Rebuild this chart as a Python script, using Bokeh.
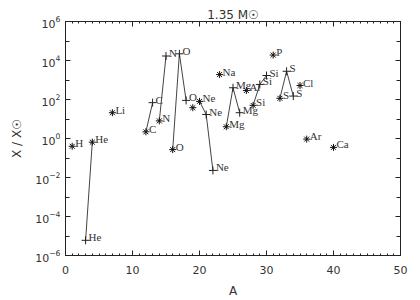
from bokeh.plotting import figure
from bokeh.models import (ColumnDataSource, FixedTicker, SingleIntervalTicker,
                          LinearAxis, LogAxis, Range1d, LabelSet, LogTickFormatter)
from bokeh.embed import file_html
from bokeh.resources import INLINE

# ---- data ----
element = ["H", "He", "He", "Li", "C", "C", "N", "N", "O", "O", "O", "F",
           "Ne", "Ne", "Ne", "Na", "Mg", "Mg", "Mg", "Al", "Si", "Si", "Si",
           "P", "S", "S", "S", "Cl", "Ar", "Ca"]
mass = [1, 3, 4, 7, 12, 13, 14, 15, 16, 17, 18, 19, 20, 21, 22, 23, 24, 25, 26,
        27, 28, 29, 30, 31, 32, 33, 34, 35, 36, 40]
overabundance = [0.40, 6.0e-6, 0.65, 21, 2.2, 69, 8.0, 1.7e4, 0.27, 2.2e4, 90,
                 38, 80, 17, 0.023, 1.9e3, 4.0, 400, 21, 290, 50, 590, 1.7e3,
                 1.9e4, 115, 2.8e3, 150, 520, 0.93, 0.35]
main_isotope = [True, False, True, True, True, False, True, False, True, False,
                False, True, True, False, False, True, True, False, False, True,
                True, False, False, True, True, False, False, True, True, True]
labelled = [e != "F" for e in element]

title_text = "1.35 M\u2609"
x_label = "A"
y_label = "X / X\u2609"
y_major = [1e-6, 1e-4, 1e-2, 1, 1e2, 1e4, 1e6]
y_minor = [1e-5, 1e-3, 1e-1, 1e1, 1e3, 1e5]

FONT = "DejaVu Sans"
INK = "#333333"
AX = "#222222"

p = figure(width=412, height=300, output_backend="svg", toolbar_location=None,
           y_axis_type="log", x_range=Range1d(0, 50), y_range=Range1d(1e-6, 1e6),
           min_border_left=65, min_border_right=12, min_border_top=21,
           min_border_bottom=43)
p.background_fill_color = "white"
p.border_fill_color = "white"
p.grid.visible = False
p.outline_line_color = AX
p.outline_line_width = 1

p.title.text = title_text
p.title.align = "center"
p.title.text_font = FONT
p.title.text_font_style = "normal"
p.title.text_font_size = "12px"
p.title.text_color = INK
p.title.standoff = 0
p.title.offset = 0

# isotope connecting lines
order = []
for e in element:
    if e not in order:
        order.append(e)
xs, ys = [], []
for e in order:
    idx = [i for i, el in enumerate(element) if el == e]
    if len(idx) > 1:
        xs.append([mass[i] for i in idx])
        ys.append([overabundance[i] for i in idx])
p.multi_line(xs, ys, line_color="#444444", line_width=1)

lab_src = ColumnDataSource(dict(
    A=[m for m, k in zip(mass, labelled) if k],
    X=[v for v, k in zip(overabundance, labelled) if k],
    lab=[e for e, k in zip(element, labelled) if k]))
star_src = ColumnDataSource(dict(
    A=[m for m, k in zip(mass, main_isotope) if k],
    X=[v for v, k in zip(overabundance, main_isotope) if k]))
plus_src = ColumnDataSource(dict(
    A=[m for m, k in zip(mass, main_isotope) if not k],
    X=[v for v, k in zip(overabundance, main_isotope) if not k]))

p.scatter("A", "X", source=star_src, marker="asterisk", size=7,
          line_color="#111111", line_width=1)
p.scatter("A", "X", source=plus_src, marker="cross", size=8,
          line_color="#222222", line_width=1)

labels = LabelSet(x="A", y="X", text="lab", source=lab_src, x_offset=3,
                  y_offset=3, text_font_size="11px", text_font=FONT,
                  text_color=INK, text_baseline="middle", text_align="left")
p.add_layout(labels)


def style_axis(ax, minor_in):
    ax.axis_label_text_font = FONT
    ax.axis_label_text_font_style = "normal"
    ax.axis_label_text_font_size = "12px"
    ax.axis_label_text_color = INK
    ax.axis_label_standoff = 4
    ax.major_label_text_font = FONT
    ax.major_label_text_font_size = "11px"
    ax.major_label_text_color = INK
    ax.major_tick_in = 5
    ax.major_tick_out = 0
    ax.minor_tick_in = minor_in
    ax.minor_tick_out = 0
    ax.axis_line_color = AX
    ax.major_tick_line_color = AX
    ax.minor_tick_line_color = AX


xa = p.xaxis[0]
xa.ticker = SingleIntervalTicker(interval=10, num_minor_ticks=10)
xa.axis_label = x_label
style_axis(xa, 2)
xa.major_label_standoff = 10
xa.axis_label_standoff = 7

ya = p.yaxis[0]
ya.ticker = FixedTicker(ticks=y_major, minor_ticks=y_minor)
ya.formatter = LogTickFormatter()
ya.axis_label = y_label
style_axis(ya, 4)
ya.major_label_standoff = 5
ya.axis_label_standoff = 8

# mirrored tick axes (labels hidden)
top = LinearAxis(ticker=SingleIntervalTicker(interval=10, num_minor_ticks=10))
style_axis(top, 2)
right = LogAxis(ticker=FixedTicker(ticks=y_major, minor_ticks=y_minor))
style_axis(right, 4)
for ax in (top, right):
    ax.major_label_text_font_size = "1px"
    ax.major_label_text_color = None
    ax.major_label_standoff = 0
p.add_layout(top, "above")
p.add_layout(right, "right")

open("out.html", "w").write(file_html(p, INLINE))
